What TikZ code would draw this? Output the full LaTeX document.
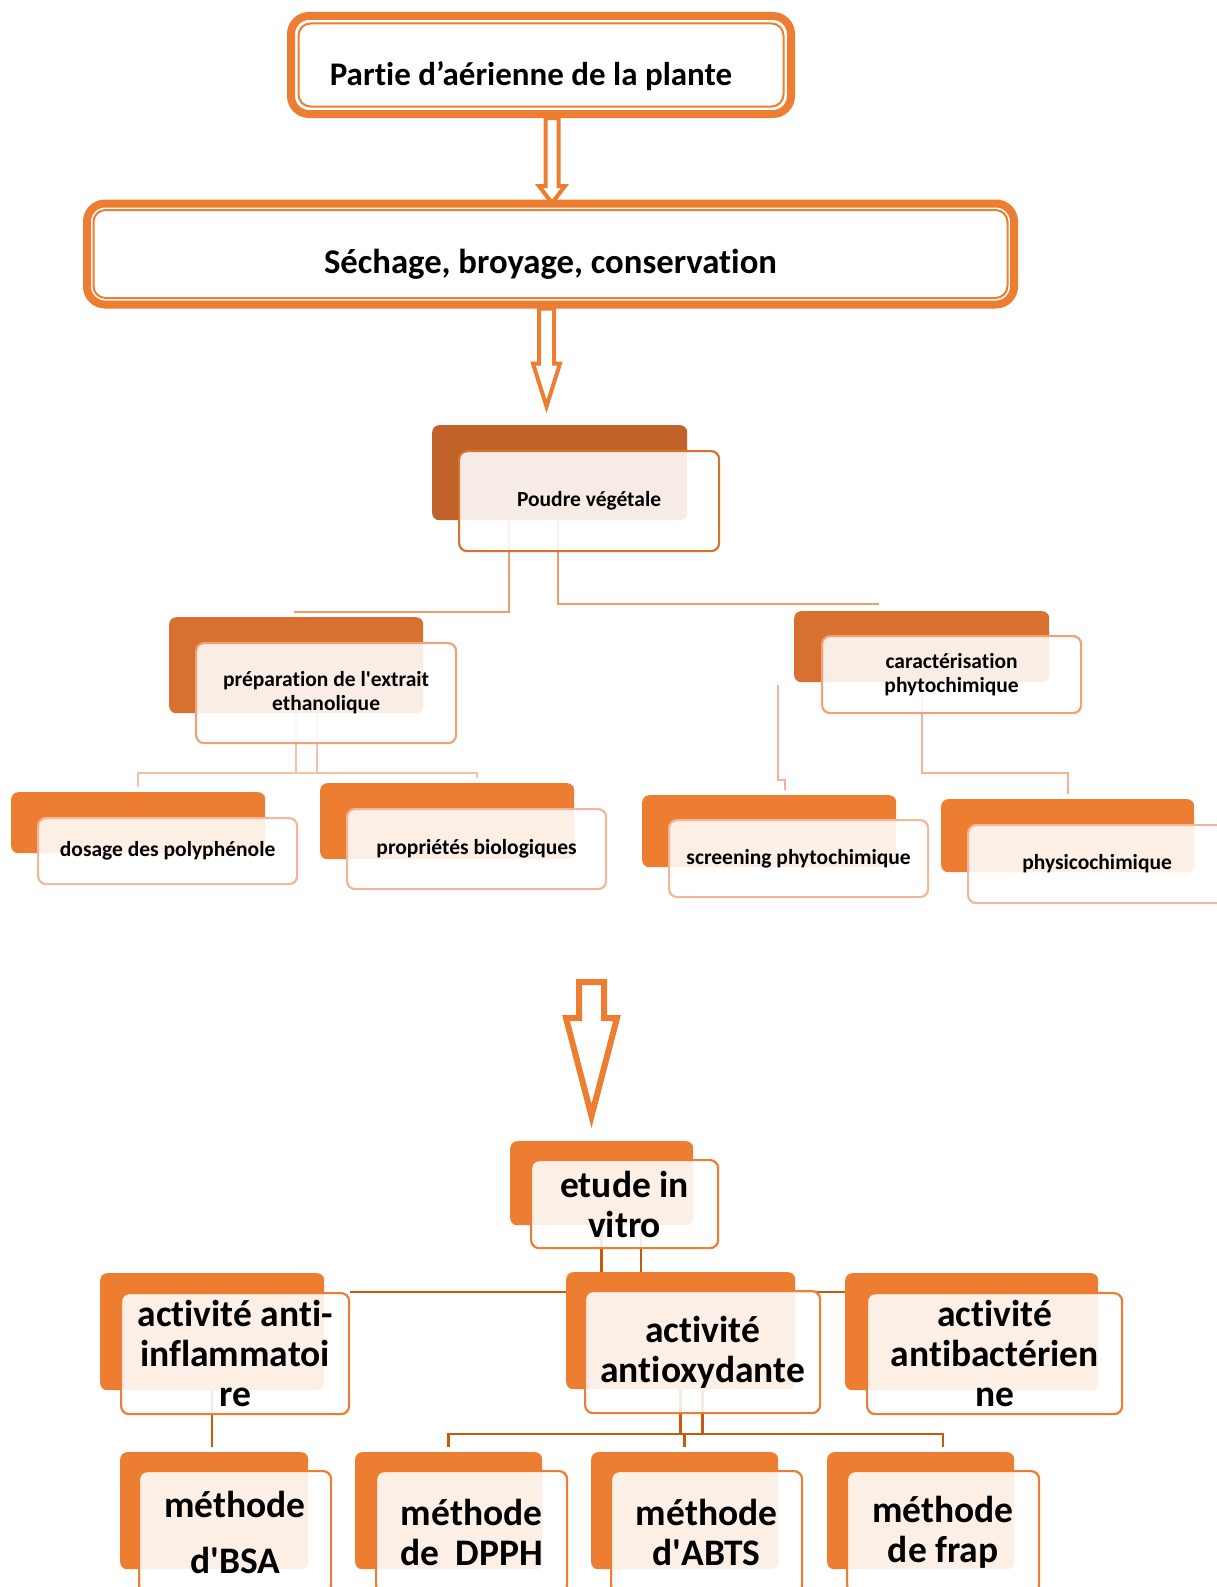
\documentclass[tikz,border=0pt]{standalone}
\usepackage{fontspec}
\setmainfont{Carlito}[Ligatures=NoCommon]
\usepackage{tikz}
\usetikzlibrary{positioning}
\pgfdeclarelayer{background}
\pgfsetlayers{background,main}
\definecolor{orng}{HTML}{ED7D31}
\definecolor{orngdk}{HTML}{C0622A}
\definecolor{orngmd}{HTML}{D87130}
\definecolor{orngln}{HTML}{D5742F}
\definecolor{salmon}{HTML}{F1A17A}
\definecolor{salmonlt}{HTML}{F4B699}
\definecolor{linkA}{HTML}{F19B6C}
\definecolor{linkB}{HTML}{F6C1A6}
\definecolor{linkC}{HTML}{F4B396}
\definecolor{linkdk}{HTML}{C55A11}
\tikzstyle{bigbox} = [draw=orng, line width=8pt, rounded corners=18pt, inner sep=0pt]
\tikzstyle{thinframe} = [draw=orng, line width=2pt, rounded corners=12pt]
\tikzstyle{hollow} = [draw=orng, fill=white, line width=4pt, line join=miter]
\tikzstyle{backbox} = [anchor=north west, inner sep=0pt, rounded corners=7pt]
\tikzstyle{frontbox} = [anchor=north west, inner sep=0pt, rounded corners=8pt, line width=2.2pt, fill=white, fill opacity=0.88, text opacity=1, draw opacity=1, align=center, text=black]
\tikzstyle{smalltext} = [font=\fontsize{21.5}{24}\selectfont\bfseries]
\tikzstyle{bigtext} = [font=\fontsize{37.5}{40}\selectfont\bfseries]
\tikzstyle{link} = [draw, line width=2pt]
\newcommand{\backbox}[4]{node (b#1) [backbox, fill=#2, minimum width=#3pt, minimum height=#4pt] {}}
\newcommand{\frontbox}[5]{node (f#1) [frontbox, draw=#2, minimum width=#3pt, minimum height=#4pt] {#5}}
\begin{document}
\begin{tikzpicture}[x=1pt,y=-1pt]
\useasboundingbox (0,0) rectangle (1217,1587);
\node (top) [bigbox, minimum width=500pt, minimum height=98pt, text height=40pt, text depth=0pt, font=\fontsize{33}{38}\selectfont\bfseries] at (541,65) {\hspace*{-20pt}Partie d’aérienne de la plante};
\draw[thinframe] ([xshift=11.5pt,yshift=-11.5pt]top.north west) rectangle ([xshift=-11.5pt,yshift=11.5pt]top.south east);
\node (sec) [bigbox, minimum width=927pt, minimum height=101pt, text height=38pt, text depth=0pt, font=\fontsize{34.7}{40}\selectfont\bfseries] at (550.5,254) {Séchage, broyage, conservation};
\draw[thinframe] ([xshift=10.5pt,yshift=-10.5pt]sec.north west) rectangle ([xshift=-10.5pt,yshift=10.5pt]sec.south east);

\begin{scope}[smalltext]
\path (432,425) \backbox{pv}{orngdk}{255}{95};
\path (bpv.north west)+(26,25) \frontbox{pv}{orngln}{260}{100}{Poudre végétale};
\path (169,617) \backbox{pr}{orngmd}{254}{96};
\path (bpr.north west)+(26,25) \frontbox{pr}{salmon}{260}{100}{préparation de l\textquotesingle extrait\\ethanolique};
\path (794,611) \backbox{ca}{orngmd}{255}{71};
\path (bca.north west)+(27,24) \frontbox{ca}{salmon}{259}{77}{caractérisation\\phytochimique};
\path (11,792) \backbox{do}{orng}{254}{61};
\path (bdo.north west)+(26,25) \frontbox{do}{salmonlt}{259}{66}{dosage des polyphénole};
\path (320,783) \backbox{pb}{orng}{254}{76};
\path (bpb.north west)+(26,25) \frontbox{pb}{salmonlt}{259}{80}{propriétés biologiques};
\path (642,795) \backbox{sc}{orng}{254}{72};
\path (bsc.north west)+(26,24) \frontbox{sc}{salmonlt}{259}{77}{screening phytochimique};
\path (941,799) \backbox{ph}{orng}{253}{73};
\path (bph.north west)+(26,25) \frontbox{ph}{salmonlt}{258}{78}{physicochimique};
\end{scope}

\begin{scope}[bigtext]
\path (510,1141) \backbox{et}{orng}{183}{84};
\path (bet.north west)+(20,18) \frontbox{et}{orng}{187}{88}{etude in\\vitro};
\path (100,1273) \backbox{ai}{orng}{224}{117};
\path (bai.north west)+(20,19) \frontbox{ai}{orng}{228}{121}{activité anti-\\inflammatoi\\re};
\path (566,1272) \backbox{ao}{orng}{229}{117};
\path (bao.north west)+(18,18) \frontbox{ao}{orng}{235}{122}{activité\\antioxydante};
\path (845,1273) \backbox{ab}{orng}{253}{117};
\path (bab.north west)+(21,19) \frontbox{ab}{orng}{255}{121}{activité\\antibactérien\\ne};
\path (120,1452) \backbox{bs}{orng}{188}{117};
\path (bbs.north west)+(18,18) \frontbox{bs}{orng}{192}{122}{méthode\\[16pt]d\textquotesingle BSA};
\path (355,1452) \backbox{dp}{orng}{187}{117};
\path (bdp.north west)+(20,18) \frontbox{dp}{orng}{191}{122}{méthode\\de\ \ DPPH};
\path (591,1452) \backbox{at}{orng}{187}{117};
\path (bat.north west)+(19,18) \frontbox{at}{orng}{191}{122}{méthode\\d\textquotesingle ABTS};
\path (827,1452) \backbox{fr}{orng}{187}{117};
\path (bfr.north west)+(19,18) \frontbox{fr}{orng}{192}{122}{méthode\\de frap};
\end{scope}

\coordinate (jl) at (294,612);
\coordinate (jr) at (879,604);
\coordinate (a3) at (591.5,982);

\begin{pgfonlayer}{background}
% block arrows
\draw[hollow] ([xshift=4.5pt]top.south) -- ++(0,68) -- ++(-6.5,0) -- ++(13,17) -- ++(13,-17) -- ++(-6.5,0) -- ++(0,-68) -- cycle;
\draw[hollow] ([xshift=-11.5pt]sec.south) -- ++(0,55) -- ++(-6,0) -- ++(13.5,43) -- ++(13.5,-43) -- ++(-6,0) -- ++(0,-55) -- cycle;
\draw[hollow, line width=6pt] ([xshift=-12.5pt]a3) -- ++(0,36) -- ++(-13,0) -- ++(25.5,98) -- ++(25.5,-98) -- ++(-13,0) -- ++(0,-36) -- cycle;
% poudre
\path[link, color=linkA] ([xshift=-50.5pt]bpv.south) |- (jl);
\path[link, color=linkA] ([xshift=-1.5pt]bpv.south) |- (jr);
% extrait
\path[link, color=linkB] (bpr.south) -- ++(0,60);
\path[link, color=linkB] ([xshift=21pt]bpr.south) -- ++(0,60);
\path[link, color=linkB] ([yshift=5pt]bdo.north) |- ([yshift=-60pt]bpr.south -| fpb.north) -- ([yshift=5pt]bpb.north -| fpb.north);
% caracterisation
\path[link, color=linkC] (bca.south) |- ([yshift=26pt]bph.north) -- ([yshift=5pt]bph.north);
\path[link, color=linkC] ([xshift=16pt,yshift=5pt]bsc.north) -- ++(0,-10) -- ++(-7,0) -- ++(0,-95);
% in vitro
\path[link, color=linkdk, line width=2.5pt] (bet.south) -- ++(0,67);
\path[link, color=linkdk, line width=2.5pt] ([xshift=39.5pt]bet.south) -- ++(0,67);
\path[link, color=linkdk, line width=2.5pt] (fai.north east) -- (fai.north east -| bab.west);
\path[link, color=linkdk, line width=2.5pt] (bai.south) -- ([yshift=5pt]bbs.north -| bai.south);
\path[link, color=linkdk, line width=2.5pt] (bao.south) -- ++(0,45);
\path[link, color=linkdk, line width=2.5pt] ([xshift=22pt]bao.south) -- ++(0,45);
\path[link, color=linkdk, line width=2.5pt] ([yshift=5pt]bdp.north) |- ([yshift=18pt]bdp.north -| ffr.north) -- ([yshift=5pt]bfr.north -| ffr.north);
\path[link, color=linkdk, line width=2.5pt] ([yshift=5pt]bat.north) -- ++(0,-13);
\end{pgfonlayer}
\end{tikzpicture}
\end{document}
